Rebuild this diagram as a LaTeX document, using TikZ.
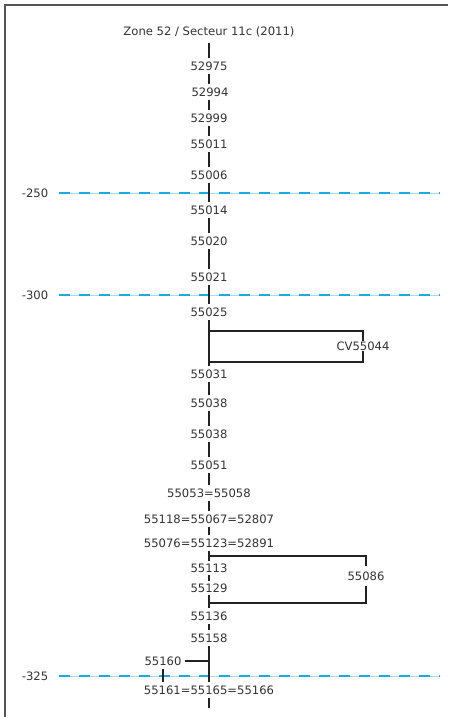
\documentclass[tikz,border=0pt]{standalone}
\usepackage{fontspec}
\setmainfont{DejaVu Sans}
\definecolor{txt}{HTML}{333333}
\definecolor{ln}{HTML}{222222}
\definecolor{dashblue}{HTML}{1AABE3}
\definecolor{faintblue}{HTML}{A9DCF2}
\definecolor{framegray}{HTML}{555555}
\begin{document}
\begin{tikzpicture}[x=1pt,y=-1pt,
  lab/.style={font=\fontsize{11.6}{14}\selectfont, text=txt, inner sep=0pt, outer sep=4pt, text height=8.5pt, text depth=0pt},
  conn/.style={draw=ln, line width=1.5pt},
  lvl/.style={draw=dashblue, line width=2pt, dash pattern=on 11pt off 9pt},
  lvlbase/.style={draw=faintblue, line width=0.7pt},
  lvllab/.style={font=\fontsize{11.6}{14}\selectfont, text=txt, inner sep=0pt, text height=8.5pt, text depth=0pt}]
\useasboundingbox (0,0) rectangle (448,717);
\draw[framegray, line width=1.5pt] (5,717) -- (5,5) -- (448,5);

% level lines
\node[lvllab] (l250) at (35,193) {-250};
\node[lvllab] (l300) at (35,295) {-300};
\node[lvllab] (l325) at (35,676) {-325};
\coordinate (e250) at (440,193);
\coordinate (e300) at (440,295);
\coordinate (e325) at (440,676);
\draw[lvlbase] ([xshift=11pt]l250.east) -- (e250);
\draw[lvlbase] ([xshift=11pt]l300.east) -- (e300);
\draw[lvlbase] ([xshift=11pt]l325.east) -- (e325);
\draw[lvl] ([xshift=11pt]l250.east) -- (e250);
\draw[lvl] ([xshift=11pt]l300.east) -- (e300);
\draw[lvl] ([xshift=11pt]l325.east) -- (e325);

% nodes
\node[lab] (title) at (209,31) {Zone 52 / Secteur 11c (2011)};
\coordinate (top) at (209,43);
\node[lab] (a) at (209,66) {52975};
\node[lab] (b) at (210,92) {52994};
\node[lab] (c) at (209,118) {52999};
\node[lab] (d) at (209,144) {55011};
\node[lab] (e) at (209,175) {55006};
\node[lab] (f) at (209,210) {55014};
\node[lab] (g) at (209,241) {55020};
\node[lab] (h) at (209,277) {55021};
\node[lab] (i) at (209,312) {55025};
\node[lab,outer sep=0.8pt] (cv) at (363,346) {CV55044};
\node[lab] (j) at (209,374) {55031};
\node[lab] (k) at (209,403) {55038};
\node[lab] (l) at (209,434) {55038};
\node[lab] (m) at (209,465) {55051};
\node[lab] (n) at (209,493) {55053=55058};
\node[lab] (o) at (209,519) {55118=55067=52807};
\node[lab] (p) at (209,543) {55076=55123=52891};
\node[lab,outer sep=3pt] (q) at (209,568) {55113};
\node[lab,outer sep=3pt] (r) at (209,588) {55129};
\node[lab,outer sep=5.5pt] (s86) at (366,576) {55086};
\node[lab] (t) at (209,616) {55136};
\node[lab] (u) at (209,638) {55158};
\node[lab] (v) at (163,661) {55160};
\node[lab] (w) at (209,690) {55161=55165=55166};
\coordinate (bot) at (209,708);

% axis connectors
\draw[conn] (top) -- (a.north);
\draw[conn] (a.south) -- (a.south |- b.north);
\draw[conn] (a.south |- b.south) -- (c.north);
\draw[conn] (c.south) -- (d.north);
\draw[conn] (d.south) -- (e.north);
\draw[conn] (e.south) -- (f.north);
\draw[conn] (f.south) -- (g.north);
\draw[conn] (g.south) -- (h.north);
\draw[conn] (h.south) -- (i.north);
\draw[conn] (i.south) -- (j.north);
\draw[conn] (j.south) -- (k.north);
\draw[conn] (k.south) -- (l.north);
\draw[conn] (l.south) -- (m.north);
\draw[conn] (m.south) -- (n.north);
\draw[conn] (n.south) -- (o.north);
\draw[conn] (o.south) -- (p.north);
\draw[conn] (p.south) -- (q.north);
\draw[conn] (q.south) -- (r.north);
\draw[conn] (r.south) -- (t.north);
\draw[conn] (t.south) -- (u.north);
\draw[conn] (u.south) -- (w.north);
\draw[conn] (w.south) -- (bot);

% side loop CV55044
\coordinate (b1t) at (209,331);
\coordinate (b1b) at (209,362);
\draw[conn] (b1t) -| (cv.north);
\draw[conn] (b1b) -| (cv.south);

% side loop 55086
\coordinate (b2t) at (209,556);
\coordinate (b2b) at (209,603);
\draw[conn] (b2t) -| (s86.north);
\draw[conn] (b2b) -| (s86.south);

% 55160 branch
\draw[conn] (v.east) -- (v.east -| u.south);
\draw[conn] (v.south) -- (v.south |- w.north);
\end{tikzpicture}
\end{document}
